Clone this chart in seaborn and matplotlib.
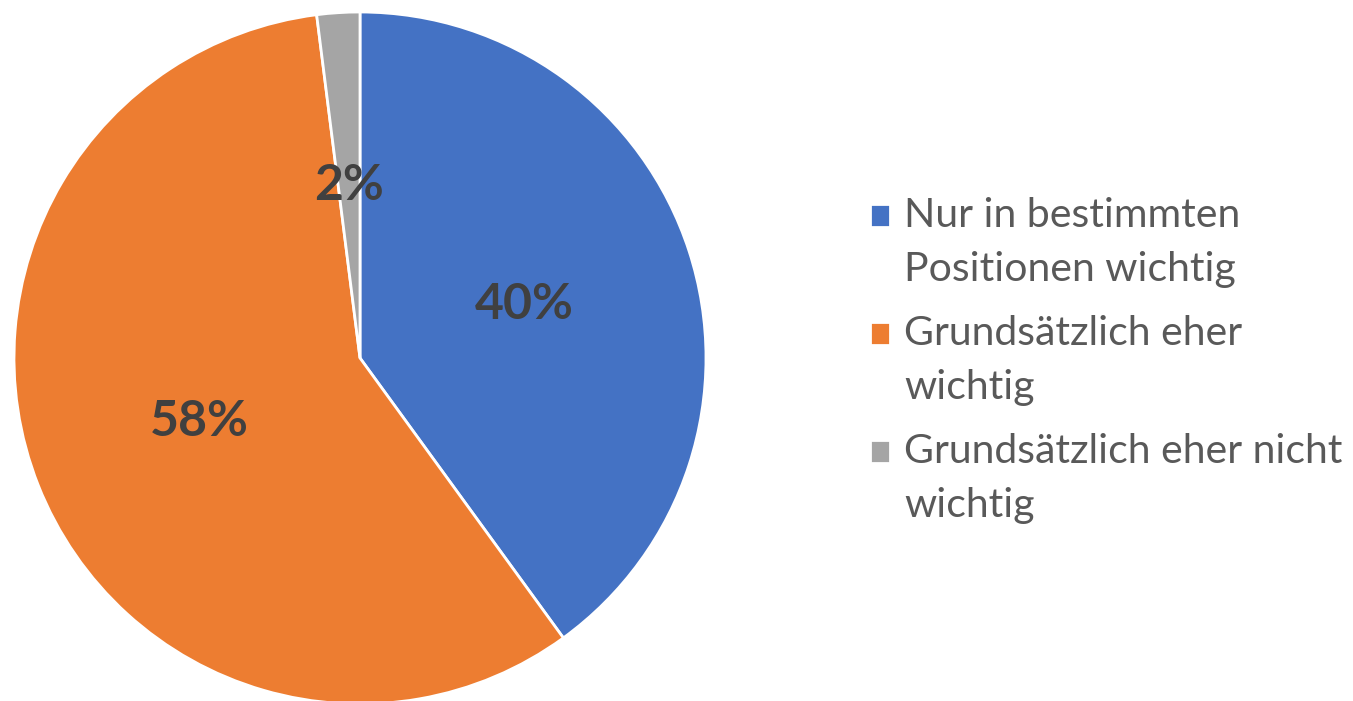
import numpy as np
import pandas as pd
from matplotlib import pyplot as plt
import seaborn as sns

# Chart data
categories = ['Nur in bestimmten\nPositionen wichtig',
              'Grundsätzlich eher\nwichtig',
              'Grundsätzlich eher nicht\nwichtig']
shares = [40, 58, 2]
colors = ['#4472C4', '#ED7D31', '#A5A5A5']

sns.set_theme(style='white')
plt.rcParams['font.family'] = ['Lato', 'DejaVu Sans']

df = pd.DataFrame({'category': categories, 'share': shares})

fig = plt.figure(figsize=(13.53, 7.01), dpi=100)
# pie area: centre ~ (360, 358) px, radius ~ 346 px
ax = fig.add_axes([14 / 1353, -3 / 701, 692 / 1353, 692 / 701])

wedges, texts, autotexts = ax.pie(
    df['share'], colors=colors, startangle=90, counterclock=False,
    autopct='%1.0f%%', pctdistance=0.5,
    wedgeprops=dict(edgecolor='white', linewidth=2),
    textprops=dict(color='#404040', fontsize=36, fontweight='bold'))
ax.set_xlim(-1, 1)
ax.set_ylim(-1, 1)
ax.set_aspect('equal')

fs = 29.5
leg = fig.legend(wedges, df['category'], loc='upper left',
                 bbox_to_anchor=(870 / 1353, 1 - 197 / 701),
                 frameon=False, fontsize=fs, labelcolor='#595959',
                 handlelength=0.5, handleheight=0.5, handletextpad=0.34,
                 labelspacing=0.66, borderaxespad=0, borderpad=0)
for t in leg.get_texts():
    t.set_linespacing(1.57)

# put the square markers next to the first line of each label
fig.canvas.draw()
renderer = fig.canvas.get_renderer()
for t, p in zip(leg.get_texts(), leg.get_patches()):
    bb = t.get_window_extent(renderer)
    tmp = fig.text(0, 0, t.get_text().split('\n')[0], fontsize=fs)
    h1 = tmp.get_window_extent(renderer).height
    tmp.remove()
    target = bb.y1 - h1 / 2
    pb = p.get_window_extent(renderer)
    current = (pb.y0 + pb.y1) / 2
    p.set_y(p.get_y() + (target - current) * 72 / fig.dpi)

fig.savefig('out.png', dpi=100)
